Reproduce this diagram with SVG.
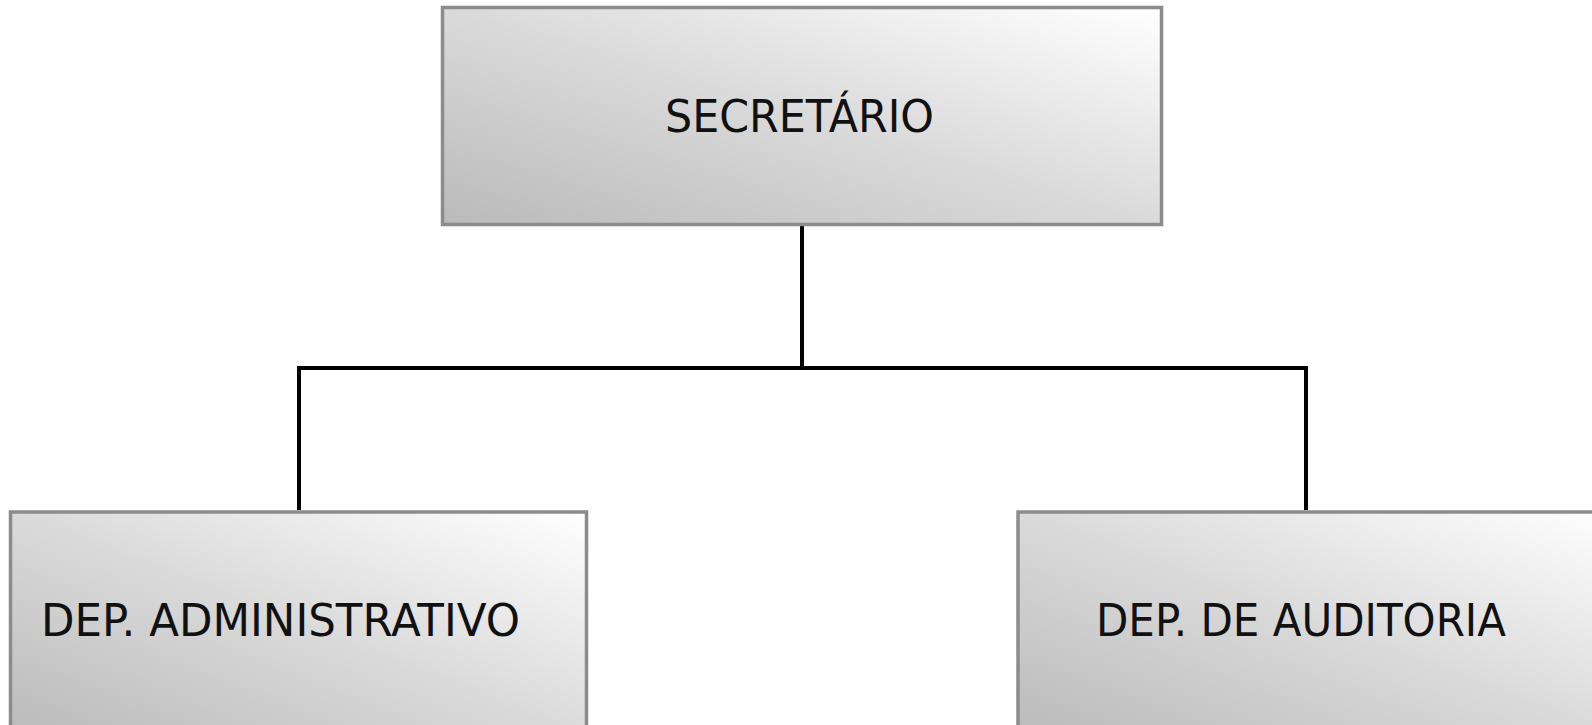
<svg xmlns="http://www.w3.org/2000/svg" width="1592" height="725" viewBox="0 0 1592 725">
  <defs>
    <linearGradient id="boxfill" x1="0" y1="1" x2="1" y2="0">
      <stop offset="0" stop-color="#bababa"/>
      <stop offset="0.5" stop-color="#dadada"/>
      <stop offset="1" stop-color="#ffffff"/>
    </linearGradient>
  </defs>
  <style>
    .box { fill: url(#boxfill); stroke: #8c8c8c; stroke-width: 3.5; }
    .label { font-family: "DejaVu Sans", "Liberation Sans", sans-serif; font-size: 44px; fill: #111; }
    .conn { fill: none; stroke: #000; stroke-width: 4; }
  </style>
  <rect width="1592" height="725" fill="#ffffff"/>
  <g id="connectors">
    <path class="conn" d="M802 226 V368"/>
    <path class="conn" d="M299 368 H1306 M299 366 V510 M1306 366 V510"/>
  </g>
  <g id="secretario">
    <rect class="box" x="442.5" y="7.5" width="719" height="217"/>
    <text class="label" x="665" y="132" textLength="269" lengthAdjust="spacingAndGlyphs">SECRETÁRIO</text>
  </g>
  <g id="dep-administrativo">
    <rect class="box" x="10.5" y="512" width="576" height="225"/>
    <text class="label" x="41" y="636" textLength="479" lengthAdjust="spacingAndGlyphs">DEP. ADMINISTRATIVO</text>
  </g>
  <g id="dep-auditoria">
    <rect class="box" x="1018" y="512" width="600" height="225"/>
    <text class="label" x="1096" y="636" textLength="410" lengthAdjust="spacingAndGlyphs">DEP. DE AUDITORIA</text>
  </g>
</svg>
